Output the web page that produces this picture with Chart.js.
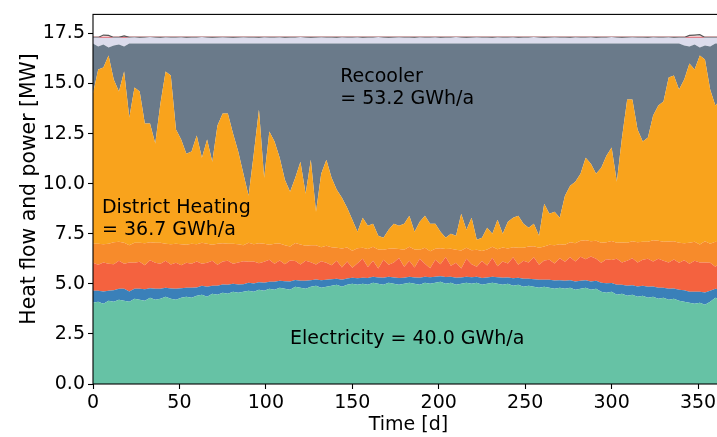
<!DOCTYPE html>
<html>
<head>
<meta charset="utf-8">
<script src="https://cdn.jsdelivr.net/npm/chart.js"></script>
<style>
  html, body { margin: 0; padding: 0; background: #fff; overflow: hidden; }
  #wrap { width: 740px; height: 437px; }
</style>
</head>
<body>
<div id="wrap"><canvas id="myChart"></canvas></div>
<script>
// days of the year, one sample every 3 days
const days = [];
for (let d = 0; d <= 363; d += 3) days.push(d);

const xTicks = [0, 50, 100, 150, 200, 250, 300, 350];
const yTicks = [0, 2.5, 5, 7.5, 10, 12.5, 15, 17.5];

// stacked heat flows and power [MW]
const electricity = [
  4.05,4.10,4.00,4.15,4.10,4.20,4.15,4.10,4.25,4.20,4.15,4.30,4.20,4.25,4.35,4.25,
  4.20,4.30,4.35,4.30,4.40,4.45,4.35,4.50,4.45,4.55,4.50,4.60,4.55,4.60,4.65,
  4.60,4.70,4.65,4.75,4.70,4.80,4.75,4.70,4.85,4.80,4.75,4.85,4.90,4.80,4.85,
  4.90,4.95,4.85,4.95,5.00,4.95,5.00,4.95,5.05,5.00,4.95,5.05,5.00,4.95,5.00,
  5.05,5.00,4.95,5.05,5.00,5.05,5.10,5.00,5.05,4.95,5.00,5.05,5.00,5.05,4.95,
  5.00,5.05,5.00,4.95,5.00,4.90,4.95,4.85,4.90,4.85,4.80,4.85,4.80,4.75,4.80,
  4.75,4.80,4.70,4.75,4.80,4.70,4.75,4.60,4.55,4.60,4.45,4.50,4.40,4.45,4.35,
  4.40,4.30,4.35,4.25,4.30,4.20,4.25,4.15,4.10,4.05,4.00,4.05,3.95,4.10,4.30,4.20
];
const heatPumpLow = [
  0.60,0.55,0.62,0.50,0.58,0.55,0.60,0.52,0.50,0.55,0.58,0.48,0.55,0.50,0.45,0.52,
  0.55,0.48,0.45,0.50,0.42,0.45,0.50,0.40,0.45,0.42,0.45,0.40,0.42,0.38,0.40,
  0.42,0.38,0.40,0.35,0.40,0.36,0.38,0.42,0.34,0.36,0.40,0.33,0.32,0.38,0.35,
  0.33,0.30,0.36,0.32,0.30,0.33,0.30,0.34,0.30,0.32,0.35,0.30,0.32,0.34,0.30,
  0.30,0.32,0.35,0.30,0.33,0.30,0.28,0.34,0.30,0.35,0.32,0.30,0.33,0.30,0.34,
  0.32,0.30,0.33,0.36,0.32,0.38,0.35,0.40,0.36,0.38,0.40,0.36,0.40,0.42,0.38,
  0.40,0.38,0.42,0.40,0.38,0.42,0.40,0.45,0.48,0.44,0.50,0.46,0.50,0.48,0.52,
  0.50,0.55,0.52,0.55,0.50,0.56,0.52,0.55,0.58,0.55,0.60,0.56,0.62,0.55,0.45,0.50
];
const wasteHeat = [
  1.40,1.30,1.45,1.35,1.30,1.40,1.25,1.45,1.30,1.35,1.20,1.40,1.30,1.25,1.35,1.20,
  1.30,1.15,1.25,1.20,1.30,1.10,1.20,1.25,1.05,1.15,1.20,1.00,1.10,1.15,1.05,
  1.10,0.95,1.05,1.10,0.90,1.00,0.85,1.05,0.95,0.80,1.00,0.90,0.75,0.95,0.85,
  0.70,0.90,0.60,0.85,0.50,0.75,0.95,0.55,0.80,0.45,0.90,0.60,0.75,1.00,0.55,
  0.80,0.50,0.95,0.65,0.45,0.85,0.60,1.00,0.55,0.75,0.45,0.90,0.65,0.50,0.85,
  0.60,0.95,0.55,0.80,0.70,1.05,0.65,0.90,0.80,1.10,0.75,0.95,1.00,0.85,1.10,
  0.95,1.15,1.00,1.20,1.05,1.25,1.10,1.00,1.20,1.15,1.30,1.10,1.25,1.35,1.20,
  1.30,1.40,1.25,1.45,1.35,1.30,1.45,1.35,1.50,1.40,1.55,1.45,1.50,1.40,1.10,1.35
];
const ambientHeat = [
  0.95,1.05,0.90,1.00,1.10,0.95,1.05,0.85,1.00,0.95,1.10,0.90,1.00,1.05,0.85,1.00,
  0.95,1.05,0.90,1.00,0.85,1.05,0.95,0.80,1.05,0.90,0.85,1.00,0.90,0.80,0.95,
  0.85,1.00,0.90,0.75,1.00,0.85,0.95,0.70,0.90,1.00,0.75,0.85,0.95,0.70,0.85,
  0.90,0.65,0.95,0.70,0.85,0.75,0.55,0.90,0.70,0.95,0.50,0.80,0.70,0.45,0.85,
  0.70,0.90,0.45,0.80,0.85,0.55,0.80,0.40,0.85,0.65,0.90,0.55,0.70,0.85,0.50,
  0.80,0.55,0.85,0.70,0.75,0.50,0.85,0.65,0.80,0.55,0.85,0.70,0.75,0.90,0.70,
  0.85,0.75,0.90,0.80,0.95,0.75,0.90,1.00,0.85,0.95,0.80,1.00,0.90,0.85,1.00,
  0.90,0.85,1.05,0.90,0.95,1.05,0.90,1.00,0.85,1.05,0.95,0.90,1.05,0.95,1.25,1.00
];
const districtHeating = [
  7.50,8.70,8.83,9.40,8.12,7.50,8.55,6.38,7.75,7.55,5.97,5.92,4.95,6.95,8.60,8.43,
  5.70,5.22,4.55,4.60,5.43,4.25,5.20,4.15,5.90,6.48,6.50,5.50,4.63,3.57,2.35,
  4.53,6.67,3.30,5.65,5.10,4.29,3.27,2.73,3.26,4.14,2.60,4.27,1.68,3.67,4.30,
  3.47,2.90,2.54,1.98,1.55,0.82,1.50,1.16,1.15,0.68,0.60,0.95,1.23,1.16,1.30,
  1.55,0.88,1.40,1.60,1.37,1.25,0.82,0.56,0.75,0.70,1.83,0.90,1.62,0.50,0.66,
  1.08,0.65,1.47,0.69,1.33,1.47,1.60,1.20,0.94,1.12,0.60,2.14,1.55,1.68,1.32,
  2.45,2.82,3.08,3.35,4.12,3.88,3.35,3.75,4.32,4.66,3.05,5.24,7.15,7.07,5.63,
  5.00,5.20,6.23,6.75,7.00,8.19,8.28,7.65,8.17,8.95,8.60,9.44,9.08,7.70,6.80,7.15
];
const recooler = [
  2.50,1.15,1.15,0.40,1.70,2.35,1.25,3.70,2.20,2.40,4.00,4.00,5.00,3.00,1.40,1.60,
  4.30,4.80,5.50,5.40,4.60,5.70,4.80,5.90,4.10,3.50,3.50,4.50,5.40,6.50,7.60,
  5.50,3.30,6.70,4.40,4.90,5.70,6.80,7.40,6.70,5.90,7.50,5.80,8.40,6.50,5.80,
  6.70,7.30,7.70,8.20,8.80,9.40,8.70,9.10,9.00,9.60,9.70,9.30,9.00,9.10,9.00,
  8.60,9.40,8.90,8.60,9.00,9.00,9.40,9.70,9.50,9.60,8.50,9.30,8.70,9.80,9.70,
  9.20,9.50,8.80,9.50,8.90,8.70,8.60,9.00,9.20,9.00,9.60,8.00,8.50,8.40,8.70,
  7.60,7.10,6.90,6.50,5.70,6.00,6.50,6.20,5.60,5.20,6.90,4.70,2.80,2.80,4.30,
  4.90,4.70,3.60,3.10,2.90,1.70,1.60,2.30,1.70,0.85,1.25,0.40,0.70,2.15,3.10,2.80
];
const reserve = [
  0.30,0.45,0.35,0.50,0.40,0.35,0.45,0.30,0.31,0.29,0.30,0.32,0.30,0.29,0.31,0.30,
  0.30,0.31,0.29,0.30,0.30,0.32,0.30,0.29,0.30,0.31,0.30,0.29,0.30,0.31,0.30,
  0.30,0.29,0.31,0.30,0.30,0.31,0.29,0.30,0.30,0.32,0.30,0.29,0.30,0.31,0.30,
  0.30,0.29,0.31,0.30,0.30,0.31,0.29,0.30,0.30,0.32,0.30,0.29,0.30,0.31,0.30,
  0.30,0.29,0.31,0.30,0.30,0.31,0.29,0.30,0.30,0.32,0.30,0.29,0.30,0.31,0.30,
  0.30,0.29,0.31,0.30,0.30,0.31,0.29,0.30,0.30,0.32,0.30,0.29,0.30,0.31,0.30,
  0.30,0.29,0.31,0.30,0.30,0.31,0.29,0.30,0.30,0.32,0.30,0.29,0.30,0.31,0.30,
  0.30,0.29,0.31,0.30,0.30,0.31,0.29,0.30,0.40,0.45,0.35,0.50,0.40,0.45,0.30,0.30
];
// total installed capacity and peak boiler line
const capacity = days.map(() => 17.3);
const peakBoiler = [
  17.30,17.30,17.42,17.40,17.30,17.30,17.38,17.30,17.30,17.30,17.30,17.30,17.30,17.30,17.30,17.30,
  17.30,17.30,17.30,17.30,17.30,17.30,17.30,17.30,17.30,17.30,17.30,17.30,17.30,17.30,17.30,
  17.30,17.30,17.30,17.30,17.30,17.30,17.30,17.30,17.30,17.30,17.30,17.30,17.30,17.30,17.30,
  17.30,17.30,17.30,17.30,17.30,17.30,17.30,17.30,17.30,17.30,17.30,17.30,17.30,17.30,17.30,
  17.30,17.30,17.30,17.30,17.30,17.30,17.30,17.30,17.30,17.30,17.30,17.30,17.30,17.30,17.30,
  17.30,17.30,17.30,17.30,17.30,17.30,17.30,17.30,17.30,17.30,17.30,17.30,17.30,17.30,17.30,
  17.30,17.30,17.30,17.30,17.30,17.30,17.30,17.30,17.30,17.30,17.30,17.30,17.30,17.30,17.30,
  17.30,17.30,17.30,17.30,17.30,17.30,17.30,17.30,17.30,17.40,17.42,17.44,17.30,17.30,17.30,17.30
];

const FONT = 'DejaVu Sans';

function layer(data, color, fill) {
  return {
    data: data.map((v, i) => ({ x: days[i], y: v })),
    backgroundColor: color,
    borderWidth: 0,
    pointRadius: 0,
    fill: fill,
    stack: 'flows',
    tension: 0
  };
}

function line(data, color, width, stack) {
  return {
    data: data.map((v, i) => ({ x: days[i], y: v })),
    borderColor: color,
    borderWidth: width,
    pointRadius: 0,
    fill: false,
    stack: stack,
    tension: 0
  };
}

// frame, axis labels and the annotation texts
const extras = {
  id: 'extras',
  afterDatasetsDraw(chart) {
    const { ctx, chartArea: a, scales } = chart;
    ctx.save();
    ctx.strokeStyle = '#000';
    ctx.lineWidth = 1.1;
    ctx.strokeRect(a.left, a.top, a.right - a.left, a.bottom - a.top);

    ctx.fillStyle = '#000';
    ctx.font = '19px "' + FONT + '"';
    ctx.textAlign = 'left';
    ctx.textBaseline = 'alphabetic';
    const txt = (s, d, v, dy) => ctx.fillText(s, scales.x.getPixelForValue(d), scales.y.getPixelForValue(v) + (dy || 0));
    txt('Recooler', 143, 15.08);
    txt('= 53.2 GWh/a', 143, 15.08, 22);
    txt('District Heating', 5.2, 8.53);
    txt('= 36.7 GWh/a', 5.2, 8.53, 22);
    txt('Electricity = 40.0 GWh/a', 114, 1.98);

    ctx.textAlign = 'center';
    ctx.textBaseline = 'middle';
    ctx.fillText('Time [d]', (a.left + a.right) / 2, 425);
    ctx.font = '20.4px "' + FONT + '"';
    ctx.translate(30, 189);
    ctx.rotate(-Math.PI / 2);
    ctx.fillText('Heat flow and power [MW]', 0, 0);
    ctx.restore();
  }
};

const onlyTicks = (list) => (scale) => {
  scale.ticks = list.map(v => ({ value: v }));
};

const ctx = document.getElementById('myChart').getContext('2d');
const myChart = new Chart(ctx, {
  type: 'line',
  data: {
    datasets: [
      layer(electricity, '#66c2a5', 'origin'),
      layer(heatPumpLow, '#3a80b9', '-1'),
      layer(wasteHeat, '#f4623f', '-1'),
      layer(ambientHeat, '#f78b2b', '-1'),
      layer(districtHeating, '#f9a31c', '-1'),
      layer(recooler, '#6a7a8a', '-1'),
      layer(reserve, '#dcdcec', '-1'),
      line(peakBoiler, '#555555', 1.2, 'boiler'),
      line(capacity, '#e4262f', 1.2, 'capacity')
    ]
  },
  options: {
    responsive: true,
    maintainAspectRatio: false,
    animation: false,
    events: [],
    layout: { padding: { top: 12, right: 16, left: 0, bottom: 0 } },
    plugins: { legend: { display: false }, tooltip: { enabled: false } },
    scales: {
      x: {
        type: 'linear',
        min: 0,
        max: 365,
        afterBuildTicks: onlyTicks(xTicks),
        afterFit: (s) => { s.height = 53; },
        grid: { drawOnChartArea: false, tickLength: 5, color: '#000', tickWidth: 1.1 },
        border: { display: false },
        ticks: { color: '#000', padding: 3, maxRotation: 0, font: { family: FONT, size: 19 } }
      },
      y: {
        stacked: true,
        min: 0,
        max: 18.45,
        afterBuildTicks: onlyTicks(yTicks),
        afterFit: (s) => { s.width = 93; },
        grid: { drawOnChartArea: false, tickLength: 5, color: '#000', tickWidth: 1.1 },
        border: { display: false },
        ticks: {
          color: '#000', padding: 3,
          font: { family: FONT, size: 19 },
          callback: (v) => Number(v).toFixed(1)
        }
      }
    }
  },
  plugins: [extras]
});
</script>
</body>
</html>
